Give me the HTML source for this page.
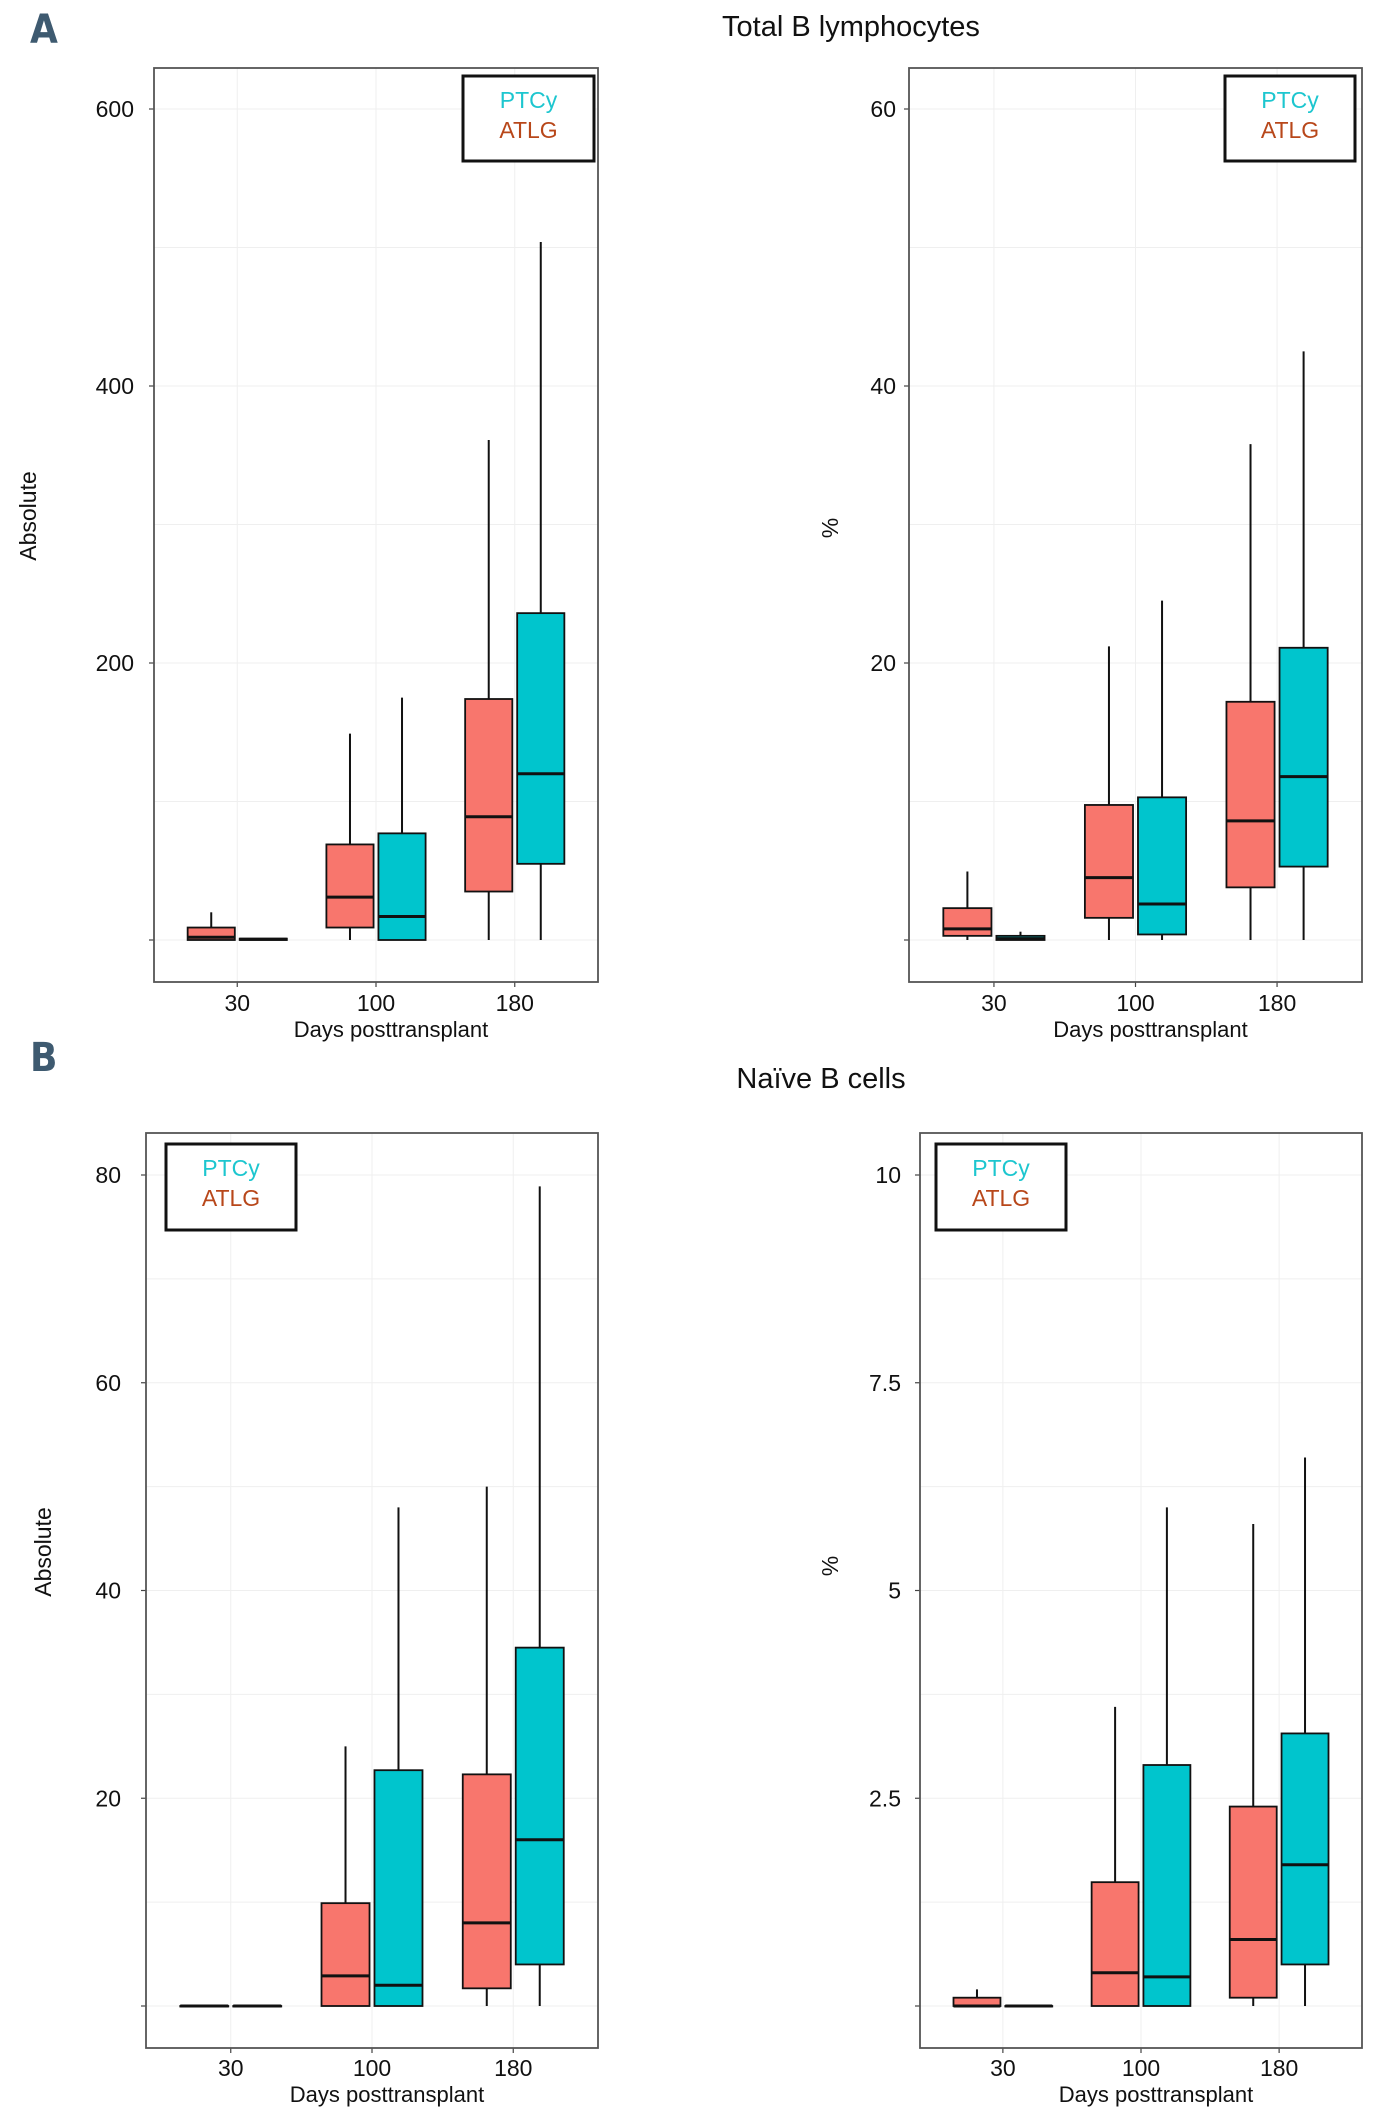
<!DOCTYPE html>
<html><head><meta charset="utf-8"><style>
html,body{margin:0;padding:0;background:#fff;}
svg{display:block;font-family:"Liberation Sans",sans-serif;}
</style></head><body>
<svg id="fig" width="1375" height="2128" viewBox="0 0 1375 2128">
<text x="30" y="43" font-size="40" font-weight="bold" fill="#3e5a70" font-family="'DejaVu Sans Condensed','Liberation Sans Narrow',sans-serif">A</text>
<text x="851" y="36" font-size="29" text-anchor="middle" fill="#111">Total B lymphocytes</text>
<text x="30" y="1071" font-size="40" font-weight="bold" fill="#3e5a70" font-family="'DejaVu Sans Condensed','Liberation Sans Narrow',sans-serif">B</text>
<text x="821" y="1088" font-size="29" text-anchor="middle" fill="#111">Naïve B cells</text>
</svg>
<script>
// Data: each entry = [whiskerLow, q1, median, q3, whiskerHigh] for days 30, 100, 180
const categories = ["30", "100", "180"];
const totalAbsATLG = [[0,0,2,9,20],[0,9,31,69,149],[0,35,89,174,361]];
const totalAbsPTCy = [[0,0,0.5,1,1],[0,0,17,77,175],[0,55,120,236,504]];
const totalPctATLG = [[0,0.3,0.8,2.3,4.95],[0,1.6,4.5,9.75,21.2],[0,3.8,8.6,17.2,35.8]];
const totalPctPTCy = [[0,0,0.1,0.3,0.6],[0,0.4,2.6,10.3,24.5],[0,5.3,11.8,21.1,42.5]];
const naiveAbsATLG = [[0,0,0,0,0],[0,0,2.9,9.9,25],[0,1.7,8,22.3,50]];
const naiveAbsPTCy = [[0,0,0,0,0],[0,0,2,22.7,48],[0,4,16,34.5,78.9]];
const naivePctATLG = [[0,0,0,0.1,0.2],[0,0,0.4,1.49,3.6],[0,0.1,0.8,2.4,5.8]];
const naivePctPTCy = [[0,0,0,0,0],[0,0,0.35,2.9,6.0],[0,0.5,1.7,3.28,6.6]];
const totalAbsTicks = [200,400,600];
const totalPctTicks = [20,40,60];
const naiveAbsTicks = [20,40,60,80];
const naivePctTicks = [2.5,5,7.5,10];
const naivePctTickLabels = ["2.5","5","7.5","10"];

const NS="http://www.w3.org/2000/svg";
const svg=document.getElementById('fig');
function mk(tag,attrs,parent){const e=document.createElementNS(NS,tag);for(const k in attrs)e.setAttribute(k,attrs[k]);(parent||svg).appendChild(e);return e;}

const panels=[
 {id:'total-absolute',x0:154,x1:598,y0:68,y1:982,zeroY:940,topY:109,topVal:600,ticks:totalAbsTicks,labels:totalAbsTicks.map(String),atlg:totalAbsATLG,ptcy:totalAbsPTCy,leg:[463,76,594,161],ylab:'Absolute',ylx:36,yly:516,lblGap:20,tly:1011,xly:1037},
 {id:'total-percent',x0:909,x1:1362,y0:68,y1:982,zeroY:940,topY:109,topVal:60,ticks:totalPctTicks,labels:totalPctTicks.map(String),atlg:totalPctATLG,ptcy:totalPctPTCy,leg:[1225,76,1355,161],ylab:'%',ylx:838,yly:528,lblGap:13,tly:1011,xly:1037},
 {id:'naive-absolute',x0:146,x1:598,y0:1133,y1:2048,zeroY:2006,topY:1175,topVal:80,ticks:naiveAbsTicks,labels:naiveAbsTicks.map(String),atlg:naiveAbsATLG,ptcy:naiveAbsPTCy,leg:[166,1144,296,1230],ylab:'Absolute',ylx:51,yly:1552,lblGap:25,tly:2076,xly:2102},
 {id:'naive-percent',x0:920,x1:1362,y0:1133,y1:2048,zeroY:2006,topY:1175,topVal:10,ticks:naivePctTicks,labels:naivePctTickLabels,atlg:naivePctATLG,ptcy:naivePctPTCy,leg:[936,1144,1066,1230],ylab:'%',ylx:838,yly:1566,lblGap:19,tly:2076,xly:2102}
];

panels.forEach(p=>{
 const g=mk('g',{});
 
 
 const w=p.x1-p.x0;
 const xs=i=>p.x0+(i+1-0.4)/3.2*w;
 const unit=w/3.2;
 const ys=v=>p.zeroY-v*(p.zeroY-p.topY)/p.topVal;
 const step=p.ticks[1]-p.ticks[0];
 for(let v=0;v<=p.topVal+1e-9;v+=step/2){
  const l=mk('line',{x1:p.x0,x2:p.x1,y1:ys(v),y2:ys(v),stroke:'#efefef','stroke-width':1},g);
  
  
 }
 categories.forEach((c,i)=>{
  const l=mk('line',{x1:xs(i),x2:xs(i),y1:p.y0,y2:p.y1,stroke:'#efefef','stroke-width':1},g);
  
  
 });
 [0].concat(p.ticks).forEach((v,k)=>{
  const t=mk('line',{x1:p.x0-5,x2:p.x0,y1:ys(v),y2:ys(v),stroke:'#444','stroke-width':1.2},g);
  
  
  if(k>0){
   const tx=mk('text',{x:p.x0-p.lblGap,y:ys(v)+8,'font-size':23,'text-anchor':'end',fill:'#111'},g);
   tx.textContent=p.labels[k-1];
   
   
  }
 });
 categories.forEach((c,i)=>{
  const t=mk('line',{x1:xs(i),x2:xs(i),y1:p.y1,y2:p.y1+5,stroke:'#444','stroke-width':1.2},g);
  
  
  const tx=mk('text',{x:xs(i),y:p.tly,'font-size':23,'text-anchor':'middle',fill:'#111'},g);
  tx.textContent=c;
  
  
 });
 const series=[{d:p.atlg,off:-0.1875,fill:'#F8766D',n:'atlg'},{d:p.ptcy,off:0.1875,fill:'#00C5CD',n:'ptcy'}];
 series.forEach(s=>{
  s.d.forEach((q,i)=>{
   const cx=xs(i)+s.off*unit, bw=0.34*unit;
   const bg=mk('g',{},g);
   
   
   mk('line',{x1:cx,x2:cx,y1:ys(q[0]),y2:ys(q[4]),stroke:'#111','stroke-width':2},bg);
   mk('rect',{x:cx-bw/2,y:ys(q[3]),width:bw,height:Math.max(ys(q[1])-ys(q[3]),0.5),fill:s.fill,stroke:'#111','stroke-width':1.8},bg);
   mk('line',{x1:cx-bw/2,x2:cx+bw/2,y1:ys(q[2]),y2:ys(q[2]),stroke:'#111','stroke-width':3},bg);
  });
 });
 const b=mk('rect',{x:p.x0,y:p.y0,width:w,height:p.y1-p.y0,fill:'none',stroke:'#555','stroke-width':1.8},g);
 
 
 const L=p.leg;
 const lg=mk('g',{},g);
 
 
 mk('rect',{x:L[0],y:L[1],width:L[2]-L[0],height:L[3]-L[1],fill:'#fff',stroke:'#111','stroke-width':3},lg);
 const cxl=(L[0]+L[2])/2;
 const t1=mk('text',{x:cxl,y:L[1]+32,'font-size':23,'text-anchor':'middle',fill:'#1DC6CF'},lg);
 t1.textContent='PTCy';
 
 
 const t2=mk('text',{x:cxl,y:L[1]+62,'font-size':23,'text-anchor':'middle',fill:'#B8471A'},lg);
 t2.textContent='ATLG';
 
 
 const yl=mk('text',{x:p.ylx,y:p.yly,'font-size':23,'text-anchor':'middle',fill:'#111',transform:'rotate(-90 '+p.ylx+' '+p.yly+')'},g);
 yl.textContent=p.ylab;
 
 
 const xl=mk('text',{x:(p.x0+p.x1)/2+15,y:p.xly,'font-size':22,'text-anchor':'middle',fill:'#111'},g);
 xl.textContent='Days posttransplant';
 
 
});
</script>
</body></html>
